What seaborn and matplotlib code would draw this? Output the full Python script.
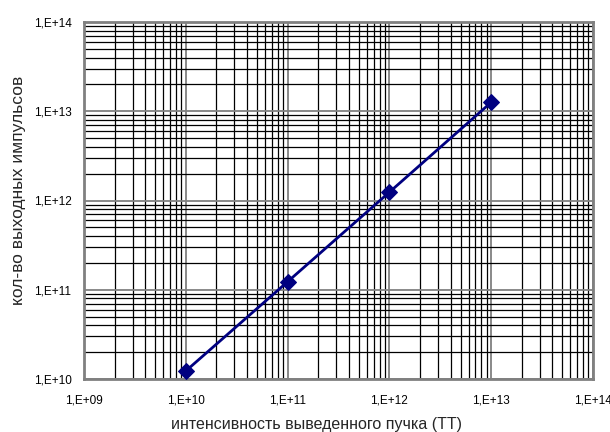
import matplotlib
matplotlib.use("Agg")
import matplotlib.pyplot as plt
import matplotlib.ticker as mticker
import seaborn as sns
import pandas as pd
import math

intensity = [1e10, 1e11, 1e12, 1e13]
pulses = [1.23e10, 1.23e11, 1.24e12, 1.26e13]
x_ticks = [1e9, 1e10, 1e11, 1e12, 1e13, 1e14]
y_ticks = [1e10, 1e11, 1e12, 1e13, 1e14]
x_label = "интенсивность выведенного пучка (ТТ)"
y_label = "кол-во выходных импульсов"

sns.set_style("white")
plt.rcParams['font.family'] = ['Liberation Sans', 'DejaVu Sans']

df = pd.DataFrame({"x": intensity, "y": pulses})

fig = plt.figure(figsize=(6.1, 4.32), dpi=100)
L, R, T, B = 84, 593, 22, 379
ax = fig.add_axes([L/610, 1 - B/432, (R-L)/610, (B-T)/432])

sns.lineplot(data=df, x="x", y="y", ax=ax, color="#000080", linewidth=2,
             marker="D", markersize=8, markeredgecolor="#000080", zorder=5)

ax.set_xscale("log")
ax.set_yscale("log")
ax.set_xlim(1e9, 1e14)
ax.set_ylim(1e10, 1e14)

def fmt(v, pos):
    e = int(round(math.log10(v)))
    return "1,E+%02d" % e

ax.xaxis.set_major_locator(mticker.FixedLocator(x_ticks))
ax.yaxis.set_major_locator(mticker.FixedLocator(y_ticks))
ax.xaxis.set_major_formatter(mticker.FuncFormatter(fmt))
ax.yaxis.set_major_formatter(mticker.FuncFormatter(fmt))
ax.xaxis.set_minor_locator(mticker.LogLocator(base=10, subs=range(2, 10), numticks=20))
ax.yaxis.set_minor_locator(mticker.LogLocator(base=10, subs=range(2, 10), numticks=20))
ax.xaxis.set_minor_formatter(mticker.NullFormatter())
ax.yaxis.set_minor_formatter(mticker.NullFormatter())

ax.grid(True, which="minor", color="black", linewidth=0.9)
ax.grid(True, which="major", color="#808080", linewidth=1.3)
ax.set_axisbelow(True)

ax.tick_params(which="both", length=0, labelsize=8.5, colors="black")
ax.tick_params(axis="x", pad=11)
ax.tick_params(axis="y", pad=9)

for s in ax.spines.values():
    s.set_color("#808080")
    s.set_linewidth(2)

ax.set_xlabel(x_label, fontsize=11.5, va="center")
ax.set_ylabel(y_label, fontsize=12.5, va="center")
ax.xaxis.set_label_coords((317 - L) / (R - L), (B - 424) / (B - T))
ax.yaxis.set_label_coords((18.5 - L) / (R - L), (B - 190) / (B - T))

fig.savefig("out.png", dpi=100)
